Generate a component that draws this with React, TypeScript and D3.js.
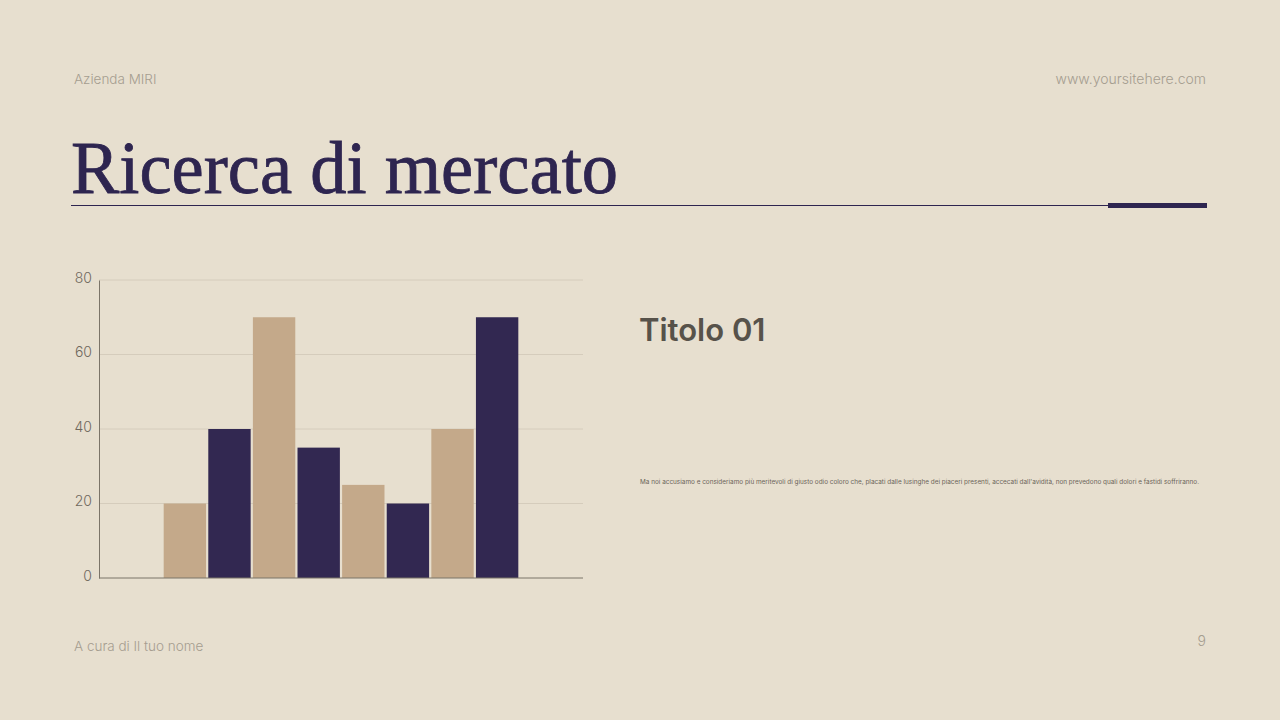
import * as d3 from 'd3';
import { useRef, useEffect } from "react"

// chart data
const categories = ["A", "B", "C", "D", "E", "F", "G", "H"]
const values = [20, 40, 70, 35, 25, 20, 40, 70]
const barColors = ["#c4a98a", "#322851", "#c4a98a", "#322851", "#c4a98a", "#322851", "#c4a98a", "#322851"]
const yTicks = [0, 20, 40, 60, 80]

const paragraph = "Ma noi accusiamo e consideriamo più meritevoli di giusto odio coloro che, placati dalle lusinghe dei piaceri presenti, accecati dall'avidità, non prevedono quali dolori e fastidi soffriranno."

function App() {
    const ref = useRef<SVGSVGElement | null>(null)

    useEffect(() => {
        document.body.style.margin = "0"
        renderChart();
    }, [])

    function renderChart() {
        const svg = d3.select(ref.current!)
        svg.selectAll("*").remove()

        // background
        svg.append("rect").attr("width", 1280).attr("height", 720).attr("fill", "#e7dfcf")

        // header
        svg.append("text")
            .attr("x", 74).attr("y", 84)
            .attr("font-family", "Inter, 'Noto Sans', sans-serif")
            .attr("font-size", 13.5).attr("font-weight", 300).attr("fill", "#a59d90")
            .text("Azienda MIRI")
        svg.append("text")
            .attr("x", 1206).attr("y", 84)
            .attr("text-anchor", "end")
            .attr("font-family", "Inter, 'Noto Sans', sans-serif")
            .attr("font-size", 14).attr("font-weight", 300).attr("fill", "#a59d90")
            .text("www.yoursitehere.com")

        // title
        svg.append("text")
            .attr("x", 71).attr("y", 193)
            .attr("font-family", "'Liberation Serif', 'DejaVu Serif', serif")
            .attr("font-size", 75).attr("fill", "#2e2550")
            .attr("stroke", "#2e2550").attr("stroke-width", 0.8)
            .attr("textLength", 547).attr("lengthAdjust", "spacingAndGlyphs")
            .text("Ricerca di mercato")
        svg.append("line")
            .attr("x1", 71).attr("x2", 1108).attr("y1", 205.5).attr("y2", 205.5)
            .attr("stroke", "#2e2550").attr("stroke-width", 1.2)
        svg.append("rect")
            .attr("x", 1108).attr("y", 203).attr("width", 99).attr("height", 5)
            .attr("fill", "#2e2550")

        // chart
        const margin = { top: 280, left: 99 }
        const width = 484
        const height = 298
        const g = svg.append("g").attr("transform", "translate(" + margin.left + "," + margin.top + ")")

        const x = d3.scaleBand().domain(categories).range([0, width]).paddingInner(0.05).paddingOuter(1.45)
        const y = d3.scaleLinear().domain([0, 80]).range([height, 0])

        // gridlines
        g.append("g")
            .selectAll("line")
            .data(yTicks.filter(d => d > 0))
            .enter()
            .append("line")
            .attr("x1", 0).attr("x2", width)
            .attr("y1", d => y(d)).attr("y2", d => y(d))
            .attr("stroke", "#d5ccbc").attr("stroke-width", 1)

        // y axis
        const yAxis = g.append("g")
            .call(d3.axisLeft(y).tickValues(yTicks).tickSize(0).tickPadding(7))
        yAxis.select(".domain").attr("stroke", "#7b7468")
        yAxis.selectAll("text")
            .attr("dy", "0.15em")
            .attr("font-family", "Inter, 'Noto Sans', sans-serif")
            .attr("font-size", 14).attr("font-weight", 300).attr("fill", "#6f685d")

        // bars
        g.append("g")
            .selectAll("rect")
            .data(values)
            .enter()
            .append("rect")
            .attr("x", (_d, i) => x(categories[i])!)
            .attr("y", d => y(d))
            .attr("width", x.bandwidth())
            .attr("height", d => height - y(d))
            .attr("fill", (_d, i) => barColors[i])

        // x axis baseline
        g.append("line")
            .attr("x1", 0).attr("x2", width).attr("y1", height).attr("y2", height)
            .attr("stroke", "#7b7468").attr("stroke-width", 1)

        // right side text
        svg.append("text")
            .attr("x", 639).attr("y", 341)
            .attr("font-family", "Inter, 'Noto Sans', sans-serif")
            .attr("font-size", 31).attr("font-weight", 600).attr("fill", "#57524a")
            .text("Titolo 01")
        svg.append("text")
            .attr("x", 640).attr("y", 484)
            .attr("font-family", "Inter, 'Noto Sans', sans-serif")
            .attr("font-size", 6.6).attr("fill", "#6a6358")
            .attr("textLength", 559).attr("lengthAdjust", "spacingAndGlyphs")
            .text(paragraph)

        // footer
        svg.append("text")
            .attr("x", 74).attr("y", 651)
            .attr("font-family", "Inter, 'Noto Sans', sans-serif")
            .attr("font-size", 13.5).attr("font-weight", 300).attr("fill", "#a59d90")
            .text("A cura di Il tuo nome")
        svg.append("text")
            .attr("x", 1206).attr("y", 646)
            .attr("text-anchor", "end")
            .attr("font-family", "Inter, 'Noto Sans', sans-serif")
            .attr("font-size", 14).attr("font-weight", 300).attr("fill", "#a59d90")
            .text("9")
    }

    return (
        <div style={{ position: 'absolute', left: 0, top: 0 }}>
            <svg width={1280} height={720} ref={ref} />
        </div>
    )
}

export default App;
